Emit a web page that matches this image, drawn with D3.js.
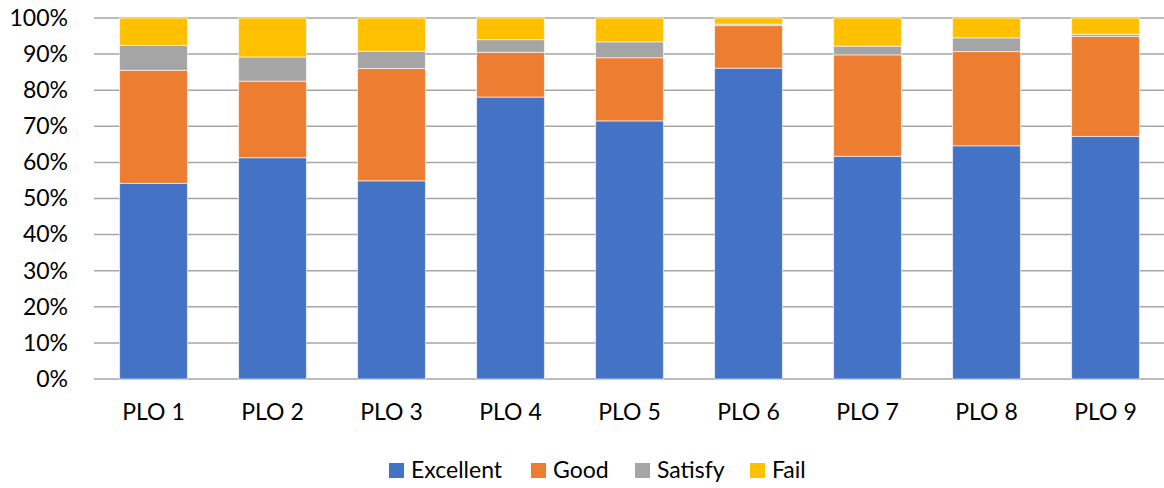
<!DOCTYPE html>
<html>
<head>
<meta charset="utf-8">
<script src="https://cdn.jsdelivr.net/npm/d3@7"></script>
<style>
  html, body { margin: 0; padding: 0; background: #fff; }
  svg { display: block; font-family: Lato, "Open Sans", sans-serif; }
</style>
</head>
<body>
<svg id="chart" width="1164" height="488"></svg>
<script>
// Share of students per rating band for each programme learning outcome (%)
const categories = ["PLO 1", "PLO 2", "PLO 3", "PLO 4", "PLO 5", "PLO 6", "PLO 7", "PLO 8", "PLO 9"];
const seriesNames = ["Excellent", "Good", "Satisfy", "Fail"];
const excellent = [54.2, 61.3, 54.9, 78.1, 71.5, 86.1, 61.7, 64.6, 67.2];
const good      = [31.3, 21.2, 31.1, 12.4, 17.5, 11.8, 28.1, 26.1, 27.7];
const satisfy   = [6.9, 6.7, 4.8, 3.5, 4.4, 0.4, 2.4, 3.8, 0.6];
const fail      = [7.6, 10.8, 9.2, 6.0, 6.6, 1.7, 7.8, 5.5, 4.5];
const yTicks = [0, 10, 20, 30, 40, 50, 60, 70, 80, 90, 100];
const colors = ["#4472c4", "#ed7d31", "#a5a5a5", "#ffc000"];

const rows = categories.map((c, i) => ({
  cat: c, Excellent: excellent[i], Good: good[i], Satisfy: satisfy[i], Fail: fail[i]
}));

// stack normalised to 100% like a percent-stacked column chart
const stacked = d3.stack().keys(seriesNames).offset(d3.stackOffsetExpand)(rows);

const svg = d3.select("#chart");
const plot = { left: 94, right: 1165, top: 18, bottom: 379 };
const fontSize = 23;

const x = d3.scaleBand().domain(categories).range([plot.left, plot.right]).paddingInner(0.43).paddingOuter(0.215);
const y = d3.scaleLinear().domain([0, 1]).range([plot.bottom, plot.top]);

// horizontal gridlines
svg.append("g")
  .selectAll("line")
  .data(yTicks)
  .join("line")
  .attr("x1", plot.left).attr("x2", plot.right)
  .attr("y1", d => y(d / 100)).attr("y2", d => y(d / 100))
  .attr("stroke", "#a6a6a6").attr("stroke-width", 1.5);

// y axis tick labels
const yAxis = d3.axisLeft(y).tickValues(yTicks.map(d => d / 100)).tickFormat(d3.format(".0%")).tickSize(0).tickPadding(26);
svg.append("g").attr("transform", `translate(${plot.left},0)`).call(yAxis)
  .call(g => g.select(".domain").remove())
  .call(g => g.selectAll("text").attr("font-size", fontSize).attr("fill", "#000").attr("font-family", "Lato, sans-serif"));

// stacked bars
svg.append("g")
  .selectAll("g")
  .data(stacked)
  .join("g")
  .attr("fill", (d, i) => colors[i])
  .selectAll("rect")
  .data(d => d)
  .join("rect")
  .attr("x", d => x(d.data.cat))
  .attr("width", x.bandwidth())
  .attr("y", d => y(d[1]))
  .attr("height", d => y(d[0]) - y(d[1]))
  .attr("stroke", "#ffffff").attr("stroke-opacity", 0.6).attr("stroke-width", 1);

// x axis labels
const xAxis = d3.axisBottom(x).tickSize(0).tickPadding(25);
svg.append("g").attr("transform", `translate(0,${plot.bottom})`).call(xAxis)
  .call(g => g.select(".domain").remove())
  .call(g => g.selectAll("text").attr("font-size", fontSize).attr("fill", "#000").attr("font-family", "Lato, sans-serif"));

// legend
const legendItems = [
  { name: "Excellent", x: 389 },
  { name: "Good", x: 531 },
  { name: "Satisfy", x: 635 },
  { name: "Fail", x: 750 }
];
const legend = svg.append("g");
legendItems.forEach((it, i) => {
  legend.append("rect").attr("x", it.x).attr("y", 463).attr("width", 15).attr("height", 15).attr("fill", colors[i]);
  legend.append("text").attr("x", it.x + 22).attr("y", 478)
    .attr("font-size", fontSize).attr("fill", "#000").text(it.name);
});
</script>
</body>
</html>
